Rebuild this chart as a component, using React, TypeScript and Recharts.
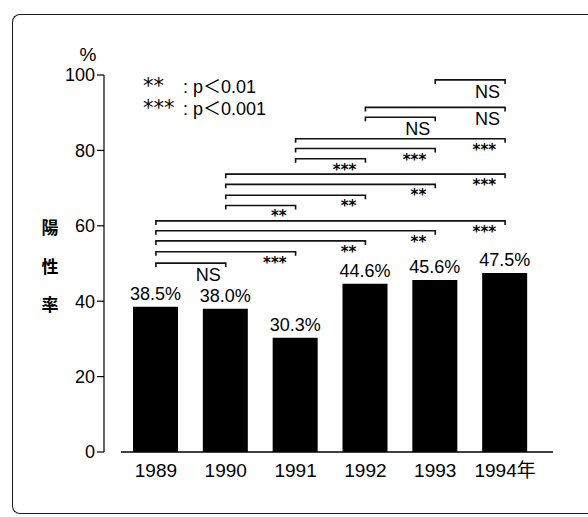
import { BarChart, Bar, XAxis, YAxis, ReferenceLine, LabelList, Legend } from 'recharts';

const years = ['1989', '1990', '1991', '1992', '1993', '1994'];
const yearLabels = ['1989', '1990', '1991', '1992', '1993', '1994年'];
const rates = [38.5, 38.0, 30.3, 44.6, 45.6, 47.5];
const yTicks = [0, 20, 40, 60, 80, 100];

// pairwise comparisons, drawn as brackets over the bars
const compFrom = ['1989', '1989', '1989', '1989', '1989', '1990', '1990', '1990', '1990', '1991', '1991', '1991', '1992', '1992', '1993'];
const compTo = ['1990', '1991', '1992', '1993', '1994', '1991', '1992', '1993', '1994', '1992', '1993', '1994', '1993', '1994', '1994'];
const compLevel = [50.1, 53.1, 56.0, 58.7, 61.3, 65.4, 68.1, 71.0, 73.7, 77.8, 80.5, 83.1, 88.8, 91.4, 98.7];
const compMark = ['NS', '***', '**', '**', '***', '**', '**', '**', '***', '***', '***', '***', 'NS', 'NS', 'NS'];

const legendMarks = ['**', '***'];
const legendP = ['0.01', '0.001'];

const yTitle = ['陽', '性', '率'];

const FONT = '"Liberation Sans", Arial, "Noto Sans CJK JP", sans-serif';
const STAR_FONT = '"DejaVu Sans", sans-serif';

const data = years.map((year, i) => ({ year, rate: rates[i] }));

const Bracket = ({ x1, y1, x2, mark }: any) => {
  const ns = mark === 'NS';
  return (
    <g>
      <path
        d={`M${x1},${y1 + 4}V${y1}H${x2}V${y1 + 4}`}
        fill="none"
        stroke="#111"
        strokeWidth={1.6}
      />
      <text
        x={ns ? x2 - 5 : x2 - 9}
        y={y1 + (ns ? 18 : 16)}
        textAnchor="end"
        fontFamily={ns ? FONT : STAR_FONT}
        fontSize={ns ? 18 : 15}
        fontWeight={ns ? 400 : 700}
        fill="#000"
      >
        {mark}
      </text>
    </g>
  );
};

const YTitle = (props: any) => {
  const vb = props.viewBox;
  const offsets = [159, 198, 236];
  return (
    <g fontFamily={FONT} fill="#000">
      <text x={vb.x + vb.width - 16} y={vb.y - 14} textAnchor="middle" fontSize={19}>
        %
      </text>
      {yTitle.map((ch, i) => (
        <text key={ch} x={vb.x + 42} y={vb.y + offsets[i]} textAnchor="middle" fontSize={17} fontWeight={700}>
          {ch}
        </text>
      ))}
    </g>
  );
};

const PValueKey = () => (
  <div style={{ fontFamily: FONT, fontSize: 18, lineHeight: '21px', color: '#000' }}>
    {legendMarks.map((m, i) => (
      <div key={m} style={{ display: 'flex', whiteSpace: 'nowrap', alignItems: 'baseline' }}>
        <span style={{ width: 40, fontSize: 21, fontFamily: STAR_FONT }}>{m}</span>
        <span>: p＜{legendP[i]}</span>
      </div>
    ))}
  </div>
);

export default function App() {
  return (
    <div style={{ position: 'absolute', left: 0, top: 0, width: 588, height: 517, overflow: 'hidden', background: '#fff' }}>
      <div
        style={{
          position: 'absolute',
          left: 12,
          top: 14,
          width: 620,
          height: 498,
          border: '1.6px solid #1a1a1a',
          borderRight: 'none',
          borderRadius: 8,
        }}
      />
      <BarChart width={588} height={517} data={data} margin={{ top: 75, right: 35, bottom: 5, left: 8 }}>
        <XAxis
          dataKey="year"
          height={60}
          padding={{ left: 0, right: 13 }}
          tickFormatter={(_v: string, i: number) => yearLabels[i]}
          tickLine={false}
          tickMargin={6}
          axisLine={{ stroke: '#000', strokeWidth: 1.4 }}
          tick={{ fill: '#000', fontSize: 19, fontFamily: FONT }}
        />
        <YAxis
          yAxisId="gap"
          width={17}
          domain={[0, 100]}
          ticks={yTicks}
          axisLine={false}
          tickLine={false}
          tick={false}
        />
        <YAxis
          yAxisId="pct"
          width={96}
          domain={[0, 100]}
          ticks={yTicks}
          tickSize={7}
          axisLine={{ stroke: '#000', strokeWidth: 1.2 }}
          tickLine={{ stroke: '#000', strokeWidth: 1.2 }}
          tick={{ fill: '#000', fontSize: 18, fontFamily: FONT }}
          label={(props: any) => <YTitle {...props} />}
        />
        <Legend
          layout="horizontal"
          verticalAlign="middle"
          align="center"
          wrapperStyle={{ position: 'absolute', left: 143, top: 76, width: 220, height: 46 }}
          content={() => <PValueKey />}
        />
        <Bar yAxisId="pct" dataKey="rate" fill="#000" barSize={45} isAnimationActive={false}>
          <LabelList
            dataKey="rate"
            position="top"
            offset={7}
            formatter={(v: number) => `${v.toFixed(1)}%`}
            style={{ fill: '#000', fontSize: 18, fontFamily: FONT }}
          />
        </Bar>
        {compFrom.map((from, i) => (
          <ReferenceLine
            key={`cmp-${i}`}
            yAxisId="pct"
            segment={[
              { x: from, y: compLevel[i] },
              { x: compTo[i], y: compLevel[i] },
            ]}
            ifOverflow="visible"
            shape={(p: any) => <Bracket {...p} mark={compMark[i]} />}
          />
        ))}
      </BarChart>
    </div>
  );
}
